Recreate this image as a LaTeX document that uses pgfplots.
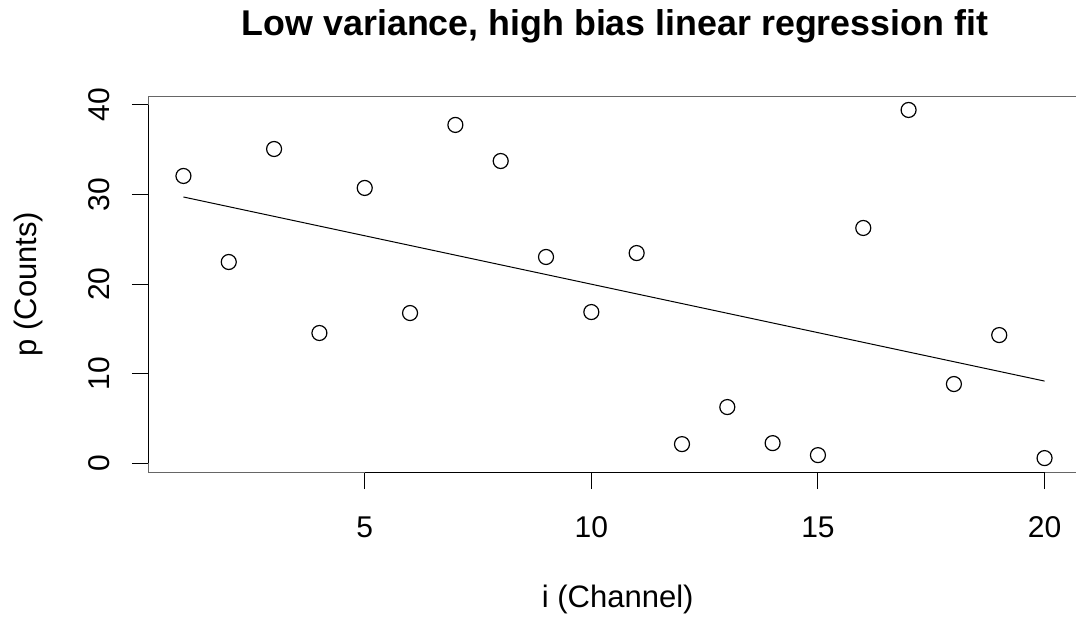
\documentclass[border=0pt]{standalone}
\usepackage{fontspec}
\setmainfont{Liberation Sans}
\usepackage{pgfplots}
\pgfplotsset{compat=1.18}
\begin{document}
\begin{tikzpicture}
\useasboundingbox (-74.5pt,-75.5pt) rectangle (463.5pt,236pt);
\begin{axis}[
  at={(0,0)}, anchor=south west,
  scale only axis, width=465pt, height=188pt,
  xmin=0.24, xmax=20.76, ymin=-0.995, ymax=41.0,
  xtick={5,10,15,20}, ytick={0,10,20,30,40},
  tick align=outside, major tick length=8.5pt,
  tick style={black, line width=0.5pt},
  axis line style={black!60, line width=0.5pt},
  xtick pos=bottom, ytick pos=left,
  /pgf/number format/assume math mode=true,
  ticklabel style={font=\fontsize{15}{17}\selectfont},
  xticklabel style={anchor=center, yshift=-19pt},
  yticklabel style={rotate=90, anchor=center, yshift=16.5pt},
  title={Low variance, high bias linear regression fit},
  title style={font=\fontsize{17.9}{21}\selectfont\bfseries, at={(axis description cs:0.501,1.154)}, anchor=center},
  xlabel={i (Channel)},
  xlabel style={font=\fontsize{15.5}{18}\selectfont, at={(axis description cs:0.504,-0.340)}, anchor=center},
  ylabel={p (Counts)},
  ylabel style={font=\fontsize{15.5}{18}\selectfont, at={(axis description cs:-0.130,0.5)}, anchor=center, rotate=0},
  clip=false,
]
\draw[black, line width=0.5pt] (axis cs:5,-0.995) -- (axis cs:20,-0.995);
\draw[black, line width=0.5pt] (axis cs:0.24,0) -- (axis cs:0.24,40);
\addplot[only marks, mark=o, mark size=3.75pt, mark options={line width=0.6pt, black}] coordinates {
(1,32.07) (2,22.46) (3,35.08) (4,14.53) (5,30.73) (6,16.76) (7,37.77) (8,33.74) (9,23.02) (10,16.87)
(11,23.46) (12,2.12) (13,6.26) (14,2.23) (15,0.89) (16,26.26) (17,39.44) (18,8.83) (19,14.30) (20,0.56)
};
\addplot[black, line width=0.5pt] coordinates {(1,29.72) (20,9.16)};
\end{axis}
\end{tikzpicture}
\end{document}
